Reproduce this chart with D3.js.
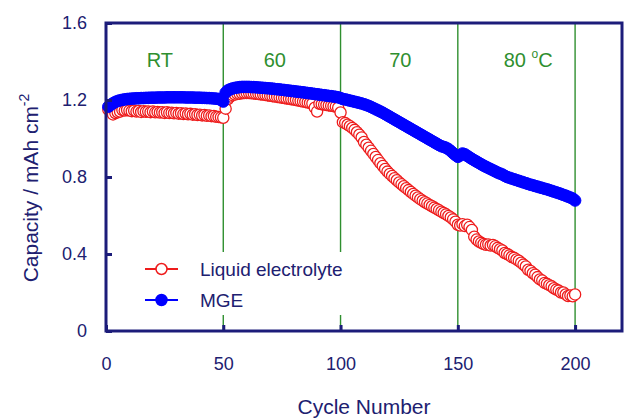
<!DOCTYPE html>
<html>
<head>
<meta charset="utf-8">
<script src="https://cdn.jsdelivr.net/npm/d3@7"></script>
<style>
  html, body { margin: 0; padding: 0; background: #fff; }
  svg { display: block; font-family: "Liberation Sans", Arial, Helvetica, sans-serif; }
</style>
</head>
<body>
<svg id="chart" width="624" height="418"></svg>
<script>
// ---- data ----
const xTicks = [0, 50, 100, 150, 200];
const yTicks = [0, 0.4, 0.8, 1.2, 1.6];
const yTickLabels = ["0", "0.4", "0.8", "1.2", "1.6"];
const regionBounds = [50, 100, 150, 200];
const regionLabels = ["RT", "60", "70", "80"];
const regionLabelX = [23, 72, 125.5, 180];
const seriesNames = ["Liquid electrolyte", "MGE"];

const mgeCapacity = [
  1.165,1.175,1.183,1.190,1.195,1.198,1.201,1.203,1.205,1.206,
  1.207,1.208,1.209,1.209,1.210,1.210,1.211,1.211,1.212,1.212,
  1.212,1.213,1.213,1.213,1.213,1.214,1.214,1.214,1.214,1.214,
  1.214,1.214,1.214,1.213,1.213,1.213,1.213,1.212,1.212,1.212,
  1.211,1.211,1.210,1.210,1.209,1.208,1.207,1.205,1.201,1.192,
  1.238,1.250,1.256,1.260,1.263,1.265,1.267,1.268,1.268,1.268,
  1.268,1.267,1.267,1.266,1.265,1.264,1.263,1.262,1.261,1.260,
  1.259,1.257,1.256,1.255,1.253,1.252,1.250,1.249,1.247,1.246,
  1.244,1.243,1.241,1.240,1.238,1.236,1.235,1.233,1.231,1.230,
  1.228,1.226,1.225,1.223,1.221,1.220,1.218,1.216,1.214,1.210,
  1.205,1.203,1.200,1.197,1.194,1.191,1.188,1.185,1.182,1.178,
  1.174,1.169,1.164,1.158,1.152,1.146,1.140,1.134,1.127,1.120,
  1.113,1.106,1.099,1.092,1.085,1.078,1.071,1.064,1.057,1.050,
  1.043,1.036,1.029,1.022,1.015,1.008,1.001,0.994,0.987,0.980,
  0.973,0.966,0.960,0.956,0.952,0.945,0.935,0.924,0.914,0.905,
  0.912,0.922,0.918,0.910,0.902,0.894,0.887,0.880,0.873,0.866,
  0.859,0.853,0.847,0.841,0.835,0.829,0.823,0.818,0.813,0.806,
  0.800,0.796,0.792,0.788,0.784,0.780,0.776,0.772,0.768,0.764,
  0.760,0.757,0.753,0.750,0.746,0.743,0.739,0.736,0.732,0.728,
  0.724,0.720,0.716,0.712,0.707,0.703,0.698,0.693,0.688,0.678
];

const liquidCapacity = [
  1.150,1.140,1.125,1.132,1.136,1.140,1.148,1.145,1.148,1.145,
  1.142,1.145,1.140,1.143,1.138,1.142,1.139,1.140,1.137,1.140,
  1.136,1.138,1.135,1.137,1.133,1.136,1.132,1.134,1.131,1.133,
  1.129,1.131,1.127,1.130,1.126,1.128,1.124,1.126,1.122,1.124,
  1.120,1.122,1.118,1.120,1.116,1.117,1.113,1.112,1.110,1.108,
  1.155,1.205,1.218,1.225,1.228,1.232,1.233,1.235,1.236,1.236,
  1.236,1.235,1.234,1.232,1.231,1.229,1.228,1.226,1.224,1.222,
  1.220,1.218,1.216,1.214,1.212,1.210,1.208,1.206,1.204,1.202,
  1.200,1.197,1.195,1.192,1.190,1.187,1.185,1.182,1.160,1.140,
  1.180,1.178,1.176,1.174,1.172,1.170,1.168,1.166,1.160,1.135,
  1.085,1.080,1.072,1.064,1.055,1.045,1.033,1.020,1.005,0.982,
  0.968,0.952,0.936,0.920,0.904,0.888,0.872,0.857,0.842,0.828,
  0.816,0.805,0.794,0.783,0.772,0.762,0.752,0.742,0.732,0.722,
  0.712,0.703,0.694,0.685,0.677,0.669,0.662,0.655,0.648,0.641,
  0.634,0.627,0.620,0.613,0.606,0.598,0.590,0.580,0.568,0.552,
  0.548,0.555,0.545,0.552,0.540,0.525,0.490,0.475,0.465,0.458,
  0.452,0.448,0.450,0.444,0.447,0.440,0.432,0.425,0.418,0.405,
  0.400,0.393,0.385,0.380,0.372,0.365,0.355,0.345,0.335,0.318,
  0.312,0.300,0.292,0.280,0.268,0.262,0.250,0.245,0.238,0.232,
  0.222,0.215,0.210,0.200,0.200,0.190,0.182,0.185,0.180,0.190
];
const cycles = d3.range(1, mgeCapacity.length + 1);

// ---- layout ----
const W = 624, H = 418;
const margin = { left: 106, right: 2, top: 23, bottom: 87 };
const iw = W - margin.left - margin.right;
const ih = H - margin.top - margin.bottom;
const navy = "#1c1c7a";
const textNavy = "#202070";
const green = "#2f8f2f";

const svg = d3.select("#chart");
const g = svg.append("g").attr("transform", `translate(${margin.left},${margin.top})`);

const x = d3.scaleLinear().domain([0, 220]).range([0, iw]);
const y = d3.scaleLinear().domain([0, 1.6]).range([ih, 0]);

// region separators
g.selectAll("line.sep").data(regionBounds).join("line")
  .attr("class", "sep")
  .attr("x1", d => x(d)).attr("x2", d => x(d))
  .attr("y1", 0).attr("y2", ih)
  .attr("stroke", green).attr("stroke-width", 1.4);

// region labels
const rl = g.selectAll("text.region").data(regionLabels).join("text")
  .attr("class", "region")
  .attr("x", (d, i) => x(regionLabelX[i]))
  .attr("y", 44)
  .attr("text-anchor", "middle")
  .attr("fill", green)
  .attr("font-size", 20);
rl.each(function(d, i) {
  const t = d3.select(this);
  if (i === regionLabels.length - 1) {
    t.append("tspan").text(d + " ");
    t.append("tspan").text("o").attr("font-size", 12).attr("dy", -9);
    t.append("tspan").text("C").attr("dy", 9);
  } else {
    t.text(d);
  }
});

// legend background (hides the separators behind it)
const legend = g.append("g");
legend.append("rect")
  .attr("x", 24).attr("y", 229).attr("width", 232).attr("height", 63)
  .attr("fill", "#fff");

// Liquid electrolyte series (open red)
g.append("g").selectAll("circle").data(cycles).join("circle")
  .attr("cx", d => x(d))
  .attr("cy", (d, i) => y(liquidCapacity[i]))
  .attr("r", 5.6)
  .attr("fill", "#fff")
  .attr("stroke", "#ee1c1c")
  .attr("stroke-width", 1.3);

// MGE series (filled blue)
g.append("g").selectAll("circle").data(cycles).join("circle")
  .attr("cx", d => x(d))
  .attr("cy", (d, i) => y(mgeCapacity[i]))
  .attr("r", 5.8)
  .attr("fill", "#0000ff")
  .attr("stroke", "#0000ff")
  .attr("stroke-width", 1);

// legend items
const legColors = ["#ee1c1c", "#0000ff"];
const legFill = ["#fff", "#0000ff"];
seriesNames.forEach((name, i) => {
  const ly = 246 + i * 31;
  legend.append("line")
    .attr("x1", 39).attr("x2", 72).attr("y1", ly).attr("y2", ly)
    .attr("stroke", legColors[i]).attr("stroke-width", 2);
  legend.append("circle")
    .attr("cx", 55.5).attr("cy", ly).attr("r", 5.5)
    .attr("fill", legFill[i]).attr("stroke", legColors[i]).attr("stroke-width", 1.5);
  legend.append("text")
    .attr("x", 94).attr("y", ly + 7)
    .attr("fill", textNavy).attr("font-size", 19)
    .text(name);
});

// axes
const yAxis = d3.axisLeft(y).tickValues(yTicks)
  .tickFormat((d, i) => yTickLabels[i])
  .tickSize(-6).tickPadding(19);
const gy = g.append("g").call(yAxis);
gy.select(".domain").remove();
gy.selectAll(".tick line").attr("stroke", navy).attr("stroke-width", 3);
gy.selectAll(".tick text").attr("fill", textNavy).attr("font-size", 18)
  .attr("font-family", "Liberation Sans, Arial, sans-serif");

const xAxis = d3.axisBottom(x).tickValues(xTicks)
  .tickSize(-6).tickPadding(26);
const gx = g.append("g").attr("transform", `translate(0,${ih})`).call(xAxis);
gx.select(".domain").remove();
gx.selectAll(".tick line").attr("stroke", navy).attr("stroke-width", 3);
gx.selectAll(".tick text").attr("fill", textNavy).attr("font-size", 18)
  .attr("font-family", "Liberation Sans, Arial, sans-serif");

// frame
g.append("rect")
  .attr("x", 0).attr("y", 0).attr("width", iw).attr("height", ih)
  .attr("fill", "none").attr("stroke", navy).attr("stroke-width", 3);

// axis titles
svg.append("text")
  .attr("x", margin.left + iw / 2).attr("y", 414)
  .attr("text-anchor", "middle").attr("fill", textNavy).attr("font-size", 21)
  .text("Cycle Number");

const yl = svg.append("text")
  .attr("transform", "translate(38,188) rotate(-90)")
  .attr("text-anchor", "middle").attr("fill", textNavy).attr("font-size", 21);
yl.append("tspan").text("Capacity / mAh cm");
yl.append("tspan").text("-2").attr("font-size", 14).attr("dy", -9);
</script>
</body>
</html>
